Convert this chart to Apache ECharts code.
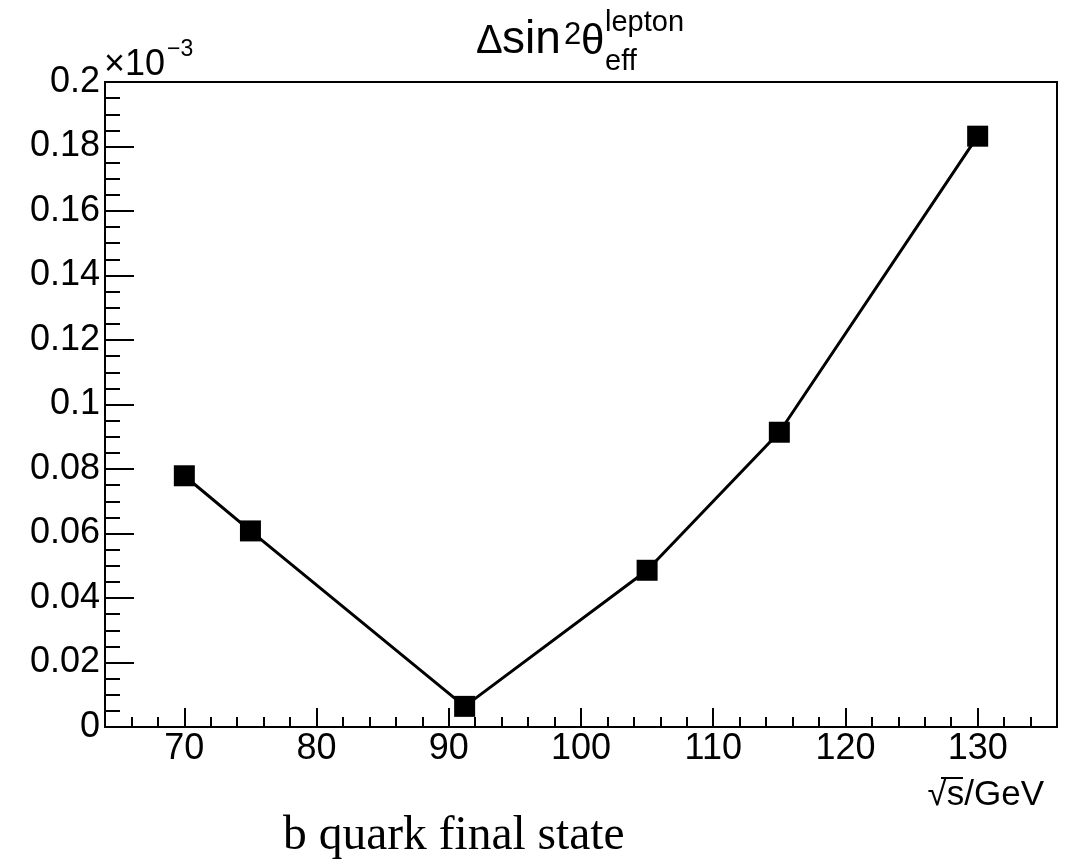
<!DOCTYPE html>
<html>
<head>
<meta charset="utf-8">
<title>delta sin2theta eff</title>
<script src="https://cdn.jsdelivr.net/npm/echarts@6/dist/echarts.min.js"></script>
<style>
  html, body { margin: 0; padding: 0; background: #fff; }
  #chart { width: 1080px; height: 866px; }
</style>
</head>
<body>
<div id="chart"></div>
<script>
  // data (values in units of 1e-3)
  const energies = [70, 75, 91.2, 105, 115, 130]
  const deltaSin2 = [0.0779, 0.0608, 0.0064, 0.0486, 0.0914, 0.1832]

  const xMajorTicks = [70, 80, 90, 100, 110, 120, 130]
  const xMinorTicks = [64, 66, 68, 72, 74, 76, 78, 82, 84, 86, 88, 92, 94, 96, 98,
    102, 104, 106, 108, 112, 114, 116, 118, 122, 124, 126, 128, 132, 134, 136]

  const FONT = "'Liberation Sans', Arial, Helvetica, sans-serif"

  const chart = echarts.init(document.getElementById('chart'))

  function txt(text, x, y, size, opts) {
    return {
      type: 'text',
      style: Object.assign({
        x: x,
        y: y,
        text: text,
        font: size + 'px ' + FONT,
        fill: '#000',
        textAlign: 'left',
        textVerticalAlign: 'middle'
      }, opts || {})
    }
  }

  chart.setOption({
    animation: false,
    backgroundColor: '#fff',
    grid: {
      left: 105,
      top: 82,
      width: 952,
      height: 645,
      show: true,
      borderColor: '#000',
      borderWidth: 2,
      backgroundColor: 'transparent'
    },
    xAxis: [{
      type: 'value',
      min: 64,
      max: 136,
      axisLine: {lineStyle: {color: '#000', width: 2}},
      axisTick: {
        inside: true,
        length: 19,
        customValues: xMajorTicks,
        lineStyle: {color: '#000', width: 2}
      },
      axisLabel: {
        customValues: xMajorTicks,
        margin: 4,
        color: '#000',
        fontSize: 36,
        fontFamily: FONT
      },
      splitLine: {show: false}
    }, {
      // minor ticks only
      type: 'value',
      position: 'bottom',
      min: 64,
      max: 136,
      axisLine: {show: false},
      axisTick: {
        inside: true,
        length: 10,
        customValues: xMinorTicks,
        lineStyle: {color: '#000', width: 2}
      },
      axisLabel: {show: false},
      splitLine: {show: false}
    }],
    yAxis: {
      type: 'value',
      min: 0,
      max: 0.2,
      interval: 0.02,
      axisLine: {show: true, lineStyle: {color: '#000', width: 2}},
      axisTick: {
        show: true,
        inside: true,
        length: 29,
        lineStyle: {color: '#000', width: 2}
      },
      minorTick: {
        show: true,
        splitNumber: 4,
        length: 15,
        lineStyle: {color: '#000', width: 2}
      },
      axisLabel: {
        margin: 5,
        color: '#000',
        fontSize: 36,
        fontFamily: FONT,
        formatter: function (v) {
          return String(parseFloat(v.toFixed(3)))
        }
      },
      splitLine: {show: false}
    },
    series: [{
      type: 'line',
      data: energies.map((e, i) => [e, deltaSin2[i]]),
      symbol: 'rect',
      symbolSize: 21,
      itemStyle: {color: '#000'},
      lineStyle: {color: '#000', width: 3},
      z: 3
    }],
    graphic: [
      // title: Δsin²θ_eff^lepton
      txt('Δ', 476, 42, 40),
      txt('sin', 502, 40, 46),
      txt('2', 564, 35, 31),
      txt('θ', 581, 42, 42),
      txt('lepton', 605, 23, 29),
      txt('eff', 605, 62, 29),
      // exponent above y axis
      txt('×10', 104, 65, 36),
      txt('−3', 167, 50, 23),
      // x axis title
      txt('√s/GeV', 1044, 795, 35, {textAlign: 'right'}),
      {
        type: 'line',
        shape: {x1: 941, y1: 778, x2: 963, y2: 778},
        style: {stroke: '#000', lineWidth: 2}
      },
      // caption
      txt('b quark final state', 283, 837, 47.5, {
        font: "47.5px 'Liberation Serif', 'Times New Roman', serif"
      })
    ]
  })
</script>
</body>
</html>
